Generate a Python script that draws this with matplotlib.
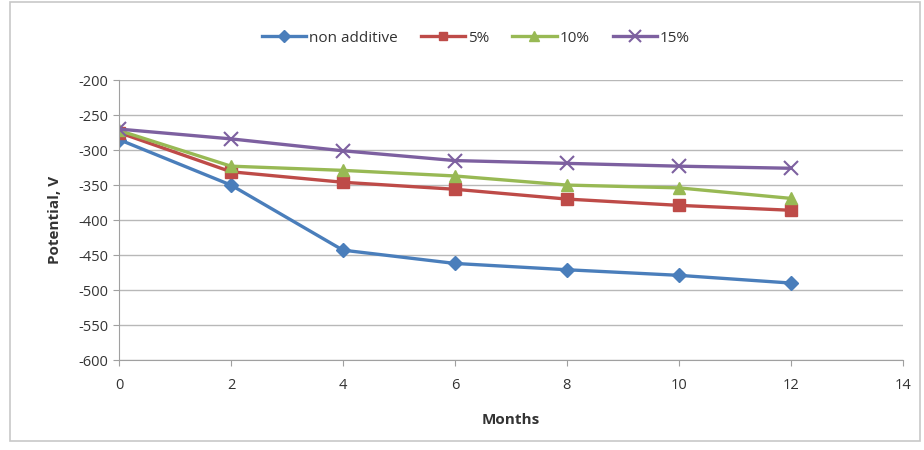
import matplotlib.pyplot as plt
from matplotlib.patches import Rectangle

months = [0, 2, 4, 6, 8, 10, 12]
non_additive = [-285, -350, -443, -462, -471, -479, -490]
p5 = [-275, -331, -346, -356, -370, -379, -386]
p10 = [-272, -323, -329, -337, -350, -354, -369]
p15 = [-270, -284, -301, -315, -319, -323, -326]
yticks = list(range(-600, -199, 50))
xticks = list(range(0, 15, 2))

plt.rcParams['font.family'] = ['Open Sans', 'DejaVu Sans']
plt.rcParams['axes.unicode_minus'] = False

fig = plt.figure(figsize=(9.24, 4.5), dpi=100)
fig.patches.append(Rectangle((0.011, 0.02), 0.985, 0.975, transform=fig.transFigure,
                             fill=False, edgecolor='#c8c8c8', lw=1.2))
ax = fig.add_axes([0.1288, 0.2, 0.848, 0.622])

series = [
  ("non additive", non_additive, '#4a7ebb', 'D', 7.5),
  ("5%", p5, '#be4b48', 's', 8),
  ("10%", p10, '#98b954', '^', 9),
  ("15%", p15, '#7d60a0', 'x', 10),
]
for name, vals, col, mk, ms in series:
  ax.plot(months, vals, color=col, lw=2.4, marker=mk, ms=ms, mew=1.5 if mk == 'x' else 1,
          label=name)

ax.set_xlim(0, 14)
ax.set_ylim(-600, -200)
ax.set_xticks(xticks)
ax.set_yticks(yticks)
ax.grid(axis='y', color='#b8b8b8', lw=1)
ax.set_axisbelow(True)
for s in ['top', 'right']:
  ax.spines[s].set_visible(False)
for s in ['left', 'bottom']:
  ax.spines[s].set_color('#a0a0a0')
ax.tick_params(colors='#a0a0a0', labelcolor='#333333', labelsize=10.5, length=4)
ax.tick_params(axis='x', pad=9)
ax.set_xlabel("Months", fontsize=11, fontweight='bold', color='#333333', labelpad=14)
ax.set_ylabel("Potential, V", fontsize=11, fontweight='bold', color='#333333', labelpad=12)

fig.legend(loc='center', bbox_to_anchor=(0.515, 0.915), ncol=4, frameon=False,
           fontsize=11, handlelength=2.9, columnspacing=1.5, handletextpad=0.2,
           labelcolor='#333333', markerscale=0.8)

fig.savefig("out.png", dpi=100)
